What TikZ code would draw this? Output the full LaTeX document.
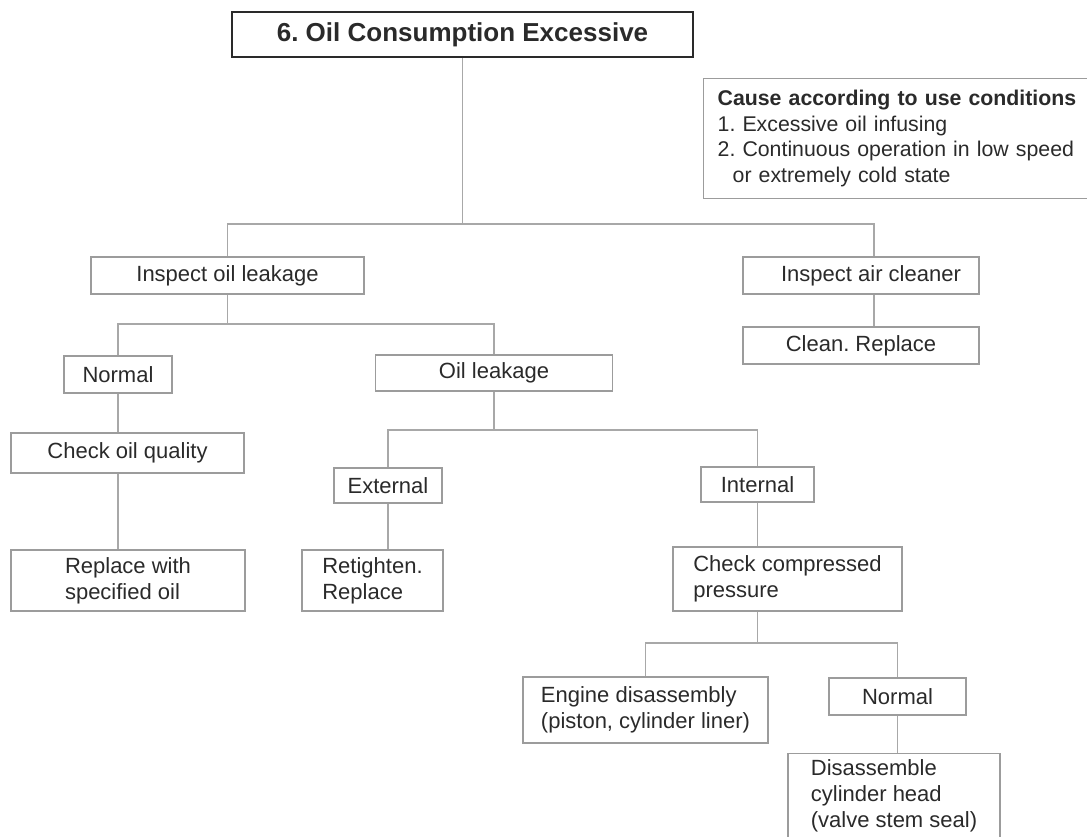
\documentclass[tikz,border=0pt]{standalone}
\usepackage{fontspec}
\setmainfont{Liberation Sans}
\usetikzlibrary{positioning, calc}
\definecolor{ink}{HTML}{2A2A2A}
\definecolor{boxgray}{HTML}{9C9C9C}
\definecolor{linegray}{HTML}{A8A8A8}
\frenchspacing

\begin{document}
\begin{tikzpicture}[x=1pt, y=-1pt, font=\fontsize{22}{26}\selectfont,
  box/.style={draw=boxgray, line width=1.3pt, text=ink, inner sep=0pt, align=center},
  leftbox/.style={box, align=left},
  head/.style={draw=ink, line width=2.4pt, text=ink, font=\fontsize{26}{30}\selectfont\bfseries, minimum width=461pt, minimum height=45pt},
  link/.style={draw=linegray, line width=1.3pt}]
  \useasboundingbox (0,0) rectangle (1087,837);
  \node[head] (title) at (462.5,34.5) {6. Oil Consumption Excessive};
  \node[leftbox, anchor=north west, text width=372pt, inner xsep=14pt, minimum height=120pt, font=\fontsize{21.3}{25.5}\selectfont] (cause) at (703,78) {\textbf{Cause according to use conditions}\\1. Excessive oil infusing\\2. Continuous operation in low speed\\\hspace*{15pt}or extremely cold state};
  % first level
  \node[box, minimum width=273pt, minimum height=37pt] (insp) at (227.5,275.5) {Inspect oil leakage};
  \node[box, minimum width=236pt, minimum height=37pt] (air) at (861,275.5) {\hspace*{20pt}Inspect air cleaner};
  \node[box, minimum width=236pt, minimum height=37pt] (clean) at (861,345.5) {Clean. Replace};
  % oil leakage branch
  \node[box, minimum width=108pt, minimum height=37pt] (norm) at (118,374.5) {Normal};
  \node[box, minimum width=237pt, minimum height=36pt] (leak) at (494,373) {Oil leakage};
  \node[box, minimum width=233pt, minimum height=40pt] (quality) at (127.5,453) {Check oil quality};
  \node[leftbox, minimum width=234pt, minimum height=61pt] (oil) at (128,580.5) {Replace with\\specified oil};
  \node[box, minimum width=108pt, minimum height=35pt] (ext) at (388,485.5) {External};
  \node[leftbox, minimum width=141pt, minimum height=61pt] (tight) at (372.5,580.5) {Retighten.\\Replace};
  \node[box, minimum width=113pt, minimum height=35pt] (int) at (757.5,484.5) {Internal};
  \node[leftbox, minimum width=229pt, minimum height=64pt] (press) at (787.5,579) {Check compressed\\pressure};
  \node[leftbox, minimum width=245pt, minimum height=66pt] (eng) at (645.5,710) {Engine disassembly\\(piston, cylinder liner)};
  \node[box, minimum width=137pt, minimum height=37pt] (norm2) at (897.5,696.5) {Normal};
  \node[leftbox, minimum width=212pt, anchor=north, inner ysep=6pt] (seal) at (894,753) {Disassemble\\cylinder head\\(valve stem seal)\rule[-14pt]{0pt}{0pt}};
  % connectors
  \coordinate (bar1) at (0,224);
  \coordinate (bar2) at (0,324);
  \coordinate (bar3) at (0,430);
  \coordinate (bar4) at (0,643);
  \coordinate (airtop) at ($(air.north)+(13,0)$);
  \coordinate (airbot) at ($(air.south)+(13,0)$);
  \draw[link] (title.south) -- (title.south |- bar1);
  \draw[link] (insp.north) |- (airtop |- bar1) -- (airtop);
  \draw[link] (airbot) -- (airbot |- clean.north);
  \draw[link] (insp.south) -- (insp.south |- bar2);
  \draw[link] (norm.north) |- (leak.north |- bar2) -- (leak.north);
  \draw[link] (norm.south) -- (norm.south |- quality.north);
  \draw[link] (norm.south |- quality.south) -- (norm.south |- oil.north);
  \draw[link] (leak.south) -- (leak.south |- bar3);
  \draw[link] (ext.north) |- (int.north |- bar3) -- (int.north);
  \draw[link] (ext.south) -- (ext.south |- tight.north);
  \draw[link] (int.south) -- (int.south |- press.north);
  \draw[link] (int.south |- press.south) -- (int.south |- bar4);
  \draw[link] (eng.north) |- (norm2.north |- bar4) -- (norm2.north);
  \draw[link] (norm2.south) -- (norm2.south |- seal.north);
\end{tikzpicture}
\end{document}
